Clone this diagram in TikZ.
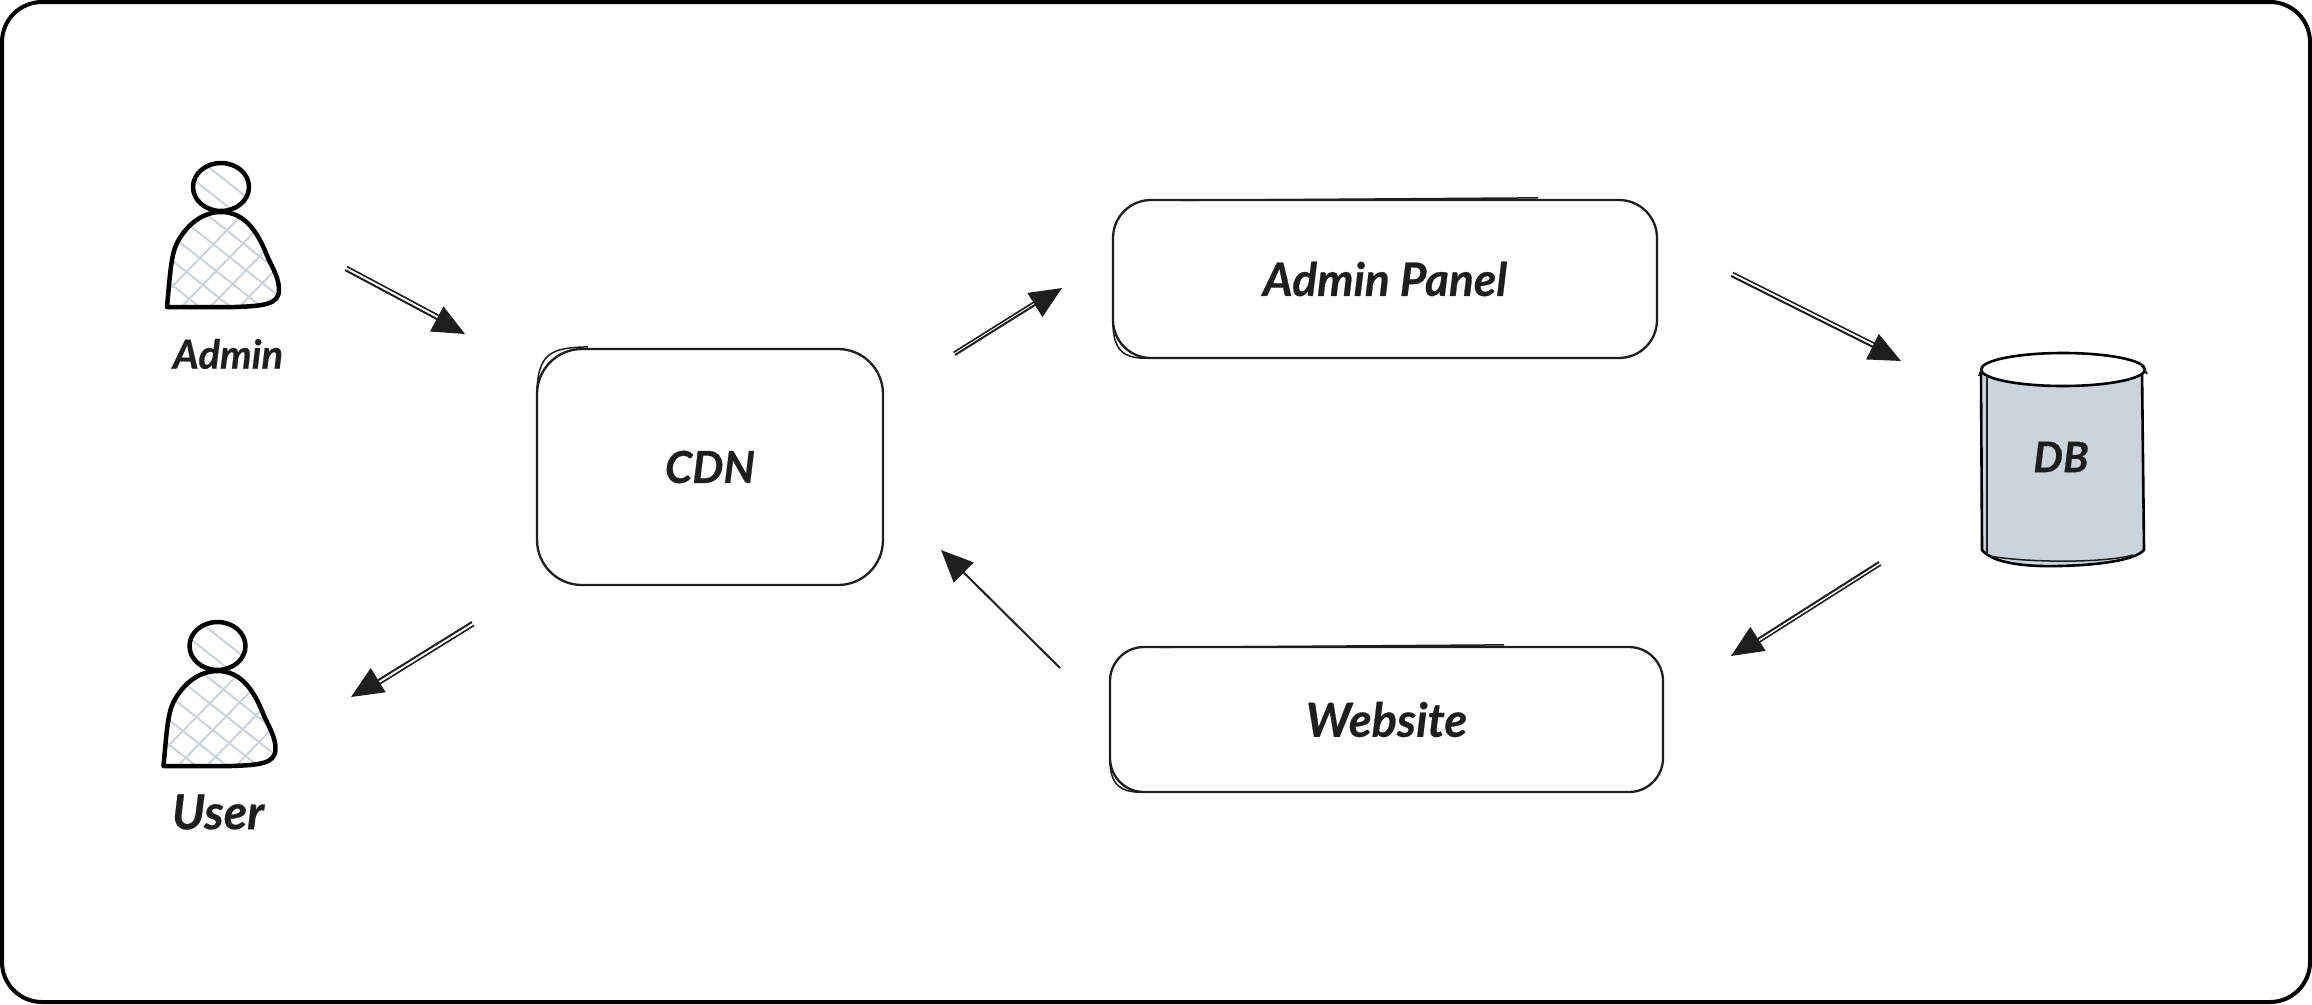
\documentclass[tikz,border=0pt]{standalone}
\usepackage{fontspec}
\setmainfont{Lato}[FakeBold=0.5]
\usetikzlibrary{arrows.meta,calc}
\definecolor{ink}{HTML}{1E1E1E}
\definecolor{hatch}{HTML}{CBD3DC}
\newcommand{\handfont}[1]{\fontsize{#1}{#1}\selectfont\itshape\bfseries}
\tikzset{
  frame/.style={draw=black,line width=4pt,rounded corners=40pt},
  box/.style={draw=ink,line width=2.3pt,fill=white,text=ink},
  sketchline/.style={draw=ink,line width=1.5pt},
  label/.style={text=ink,inner sep=0pt},
  personline/.style={draw=black,line width=4.5pt,line join=round},
  dbline/.style={draw=black,line width=2.6pt,line join=round},
  hatchline/.style={draw=hatch,line width=2pt},
  shaft/.style={draw=ink,line width=2pt},
  headed/.style={shaft,-{Triangle[length=32pt,width=28pt,fill=ink]}},
}
\newcommand{\hatchfill}{%
  \foreach \i in {0,...,14} {
    \draw[hatchline] ({120+\i*29},340) -- ({120+\i*29+200},{340-205});
    \draw[hatchline] ({-30+\i*31},150) -- ({-30+\i*31+200},{150+158});
  }}
\newcommand{\personshape}[2]{%
  \begin{scope}[shift={(#1,#2)}]
    \begin{scope}
      \clip (221,187) ellipse (28 and 24);
      \hatchfill
    \end{scope}
    \begin{scope}
      \clip (167,307) .. controls (170,275) and (171,255) .. (177,243) .. controls (187,224) and (203,212) .. (221,212) .. controls (245,212) and (258,232) .. (268,258) .. controls (275,272) and (279,280) .. (279,290) .. controls (279,305) and (262,306) .. (235,307) -- cycle;
      \hatchfill
    \end{scope}
    \draw[personline] (221,187) ellipse (28 and 24);
    \draw[personline] (167,307) .. controls (170,275) and (171,255) .. (177,243) .. controls (187,224) and (203,212) .. (221,212) .. controls (245,212) and (258,232) .. (268,258) .. controls (275,272) and (279,280) .. (279,290) .. controls (279,305) and (262,306) .. (235,307) -- cycle;
  \end{scope}}
\newcommand{\sketcharrow}[3]{%
  \draw[headed] (#1) -- (#2);
  \draw[shaft,line width=1.6pt] ($(#1)!#3!90:(#2)$) -- ($(#2)!26pt!(#1)!#3!-90:(#1)$);}
\begin{document}
\begin{tikzpicture}[x=1pt,y=-1pt]
\useasboundingbox (0,0) rectangle (2312,1004);
\draw[frame] (2,2) rectangle (2310,1002);
\personshape{0}{0}
\personshape{-3.5}{459}
\node[label,font=\handfont{40}] (admin) at (228,354) {Admin};
\node[label,font=\handfont{48}] (user) at (218,812) {User};
\node[box,font=\handfont{44},rounded corners=45pt,minimum width=346pt,minimum height=236pt] (cdn) at (710,467) {CDN};
\node[box,font=\handfont{46},rounded corners=38pt,minimum width=544pt,minimum height=158pt] (panel) at (1385,279) {Admin Panel};
\node[box,font=\handfont{47},rounded corners=34pt,minimum width=553pt,minimum height=145pt] (web) at (1386.5,719.5) {Website};
\draw[sketchline] ([xshift=1pt,yshift=-50pt]cdn.north west) .. controls ([xshift=1pt,yshift=-5pt]cdn.north west) and ([xshift=14pt,yshift=0pt]cdn.north west) .. ([xshift=52pt,yshift=1pt]cdn.north west);
\draw[sketchline] ([xshift=1pt,yshift=38pt]panel.south west) .. controls ([xshift=1pt,yshift=8pt]panel.south west) and ([xshift=12pt,yshift=0pt]panel.south west) .. ([xshift=38pt,yshift=1pt]panel.south west);
\draw[sketchline] ([xshift=70pt,yshift=-1.5pt]panel.north west) -- ([xshift=-120pt,yshift=1pt]panel.north east);
\draw[sketchline] ([xshift=1pt,yshift=34pt]web.south west) .. controls ([xshift=1pt,yshift=8pt]web.south west) and ([xshift=12pt,yshift=0pt]web.south west) .. ([xshift=36pt,yshift=1pt]web.south west);
\draw[sketchline] ([xshift=50pt,yshift=-1.5pt]web.north west) -- ([xshift=-160pt,yshift=1pt]web.north east);
% database
\path[fill=hatch] (1983,370) -- (2143,370) -- (2143,550) .. controls (2130,560) and (2090,565) .. (2060,565) .. controls (2020,566) and (1995,562) .. (1983,550) -- cycle;
\draw[dbline] (1981,372) -- (1982,550) .. controls (1992,562) and (2020,567) .. (2060,566) .. controls (2100,565) and (2135,560) .. (2144,550) -- (2142,372);
\draw[sketchline] (1987,374) -- (1987,556);
\draw[sketchline] (1990,556) .. controls (2020,562) and (2100,564) .. (2133,555);
\draw[dbline,fill=white] (2063,369.5) ellipse (82 and 16.5);
\draw[sketchline,line width=2pt] (1979,376) -- (1983,366);
\draw[sketchline,line width=2pt] (2147,374) -- (2141,364);
\node[label,font=\handfont{42}] (db) at (2061,457) {DB};
% connectors
\coordinate (a1) at (345,270); \coordinate (a2) at (465,334);
\coordinate (b1) at (955,355); \coordinate (b2) at (1062,288);
\coordinate (c1) at (1731,276); \coordinate (c2) at (1901,361);
\coordinate (d1) at (1879,562); \coordinate (d2) at (1731,656);
\coordinate (e1) at (1060,668); \coordinate (e2) at (941,550);
\coordinate (f1) at (472,622); \coordinate (f2) at (351,697);
\sketcharrow{a1}{a2}{4pt}
\sketcharrow{b1}{b2}{3pt}
\sketcharrow{c1}{c2}{4pt}
\sketcharrow{d1}{d2}{3.5pt}
\draw[headed] (e1) -- (e2);
\sketcharrow{f1}{f2}{4pt}
\end{tikzpicture}
\end{document}
